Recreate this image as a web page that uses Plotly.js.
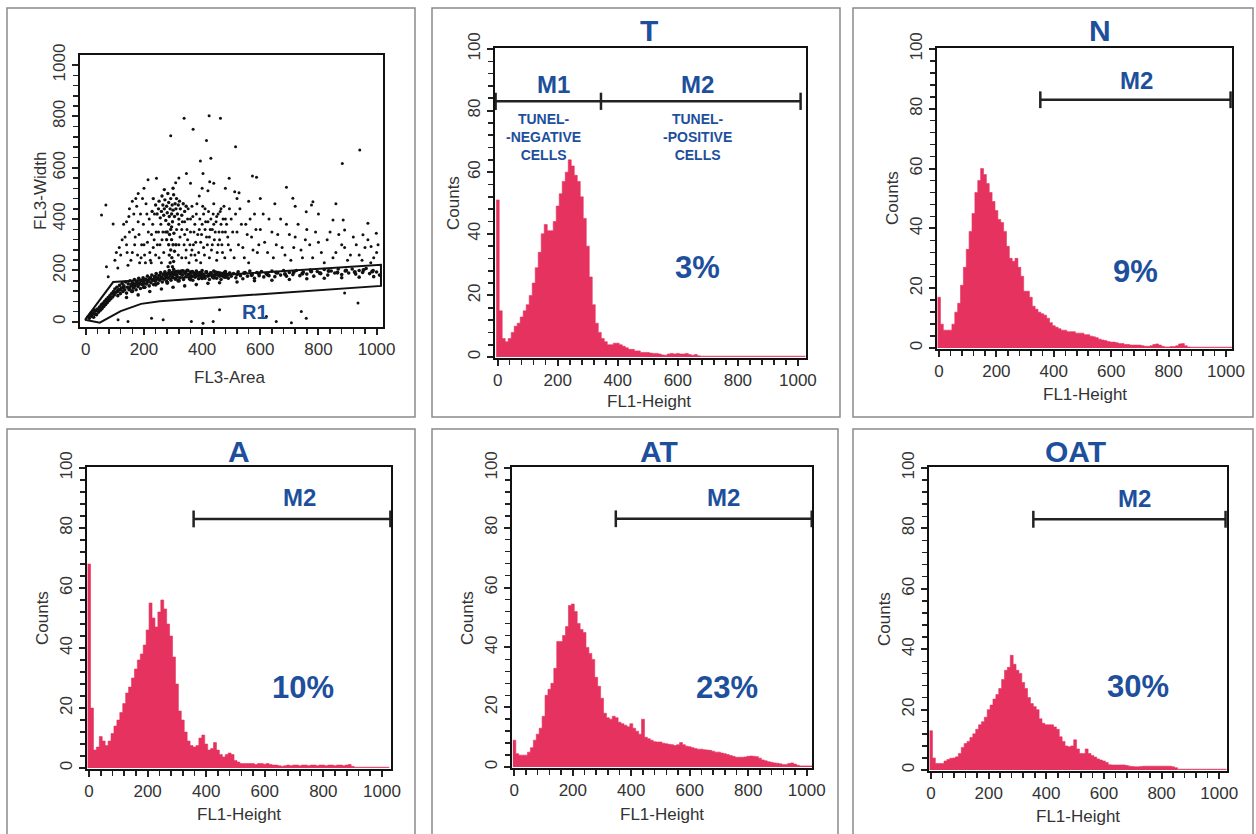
<!DOCTYPE html>
<html><head><meta charset="utf-8">
<script src="https://cdn.plot.ly/plotly-3.0.1.min.js"></script>
<style>html,body{margin:0;padding:0;background:#fff}#chart{width:1256px;height:834px}</style>
</head><body><div id="chart"></div>
<script>
// ---------------- DATA ----------------
// histogram channel centres (FL1-Height), bin width 10
const binWidth = 10;
const channels = [];
for (let c = 0; c <= 1020; c += binWidth) channels.push(c);

const panelNames = ['T', 'N', 'A', 'AT', 'OAT'];
const pctText = ['3%', '9%', '10%', '23%', '30%'];

const countsT = [
  51,15,6,5,6,8,10,11,13,15,
  17,20,24,29,34,40,43,41,41,44,
  49,53,57,60,64,62,59,57,52,45,
  36,26,17,11,8,6,5,4,4,4.5,
  4.5,4,3.5,3,2.5,2.5,2,2,1.5,1.5,
  1.5,1.3,1.2,1.2,1,0.7,0.6,1,1.2,1,
  1.2,1,1,1.2,0.8,0.6,0.8,0.4,0.3,0.3,
  0.3,0.3,0.3,0.3,0.3,0.3,0.3,0.3,0.3,0.3,
  0.3,0.3,0.3,0.3,0.3,0.3,0.3,0.3,0.3,0.3,
  0.3,0.3,0.3,0.3,0.3,0.3,0.3,0.3,0.3,0.3,
  0.3,0.3,0.3];
const countsN = [
  17,8,6,6,6,8,12,15,21,27,
  33,39,45,52,56,60,58,55,52,49,
  46,43,42,39,34,30,29,30,27,24,
  19,19,17,14,13,12,11.5,11,10,8.5,
  7.5,7,6.5,6,6,5.5,5.5,5.5,5,5,
  5,4.5,4.5,4,3.8,3.5,3,2.7,2.5,2.2,
  2,2,1.8,1.5,1.5,1.2,1.2,1,1,1,
  1,0.8,0.6,0.6,0.8,1.2,1.4,1,0.6,0.4,
  0.4,0.5,0.5,0.8,1.4,1.5,0.8,0.4,0.3,0.3,
  0.3,0.3,0.3,0.3,0.3,0.3,0.3,0.3,0.3,0.3,
  0.3,0.3,0.3];
const countsA = [
  68,20,6,7,10.5,9,7.5,9,11.5,14,
  16,18.5,21.5,25,27,30,33,36,38,41,
  46,55,50,47,52,56,53,48,44,37,
  28,19,16,12,9,7.5,7,7.5,10,11,
  8,6,6.5,8.5,6,4.5,3.7,4.5,5,4.5,
  2.5,2,1.5,1.5,1.5,1.5,1.5,1.2,1.5,1.5,
  1.3,1.5,1.2,1,1,0.8,0.6,0.8,1,0.8,
  1,1,0.8,1,1,0.8,1,1,0.8,1,
  1,0.8,1,1,0.8,1,1,0.8,1,1.2,
  0.6,0.3,0.3,0.3,0.3,0.3,0.3,0.3,0.3,0.3,
  0.3,0.3,0.3];
const countsAT = [
  9,4.5,4,4,4,5,6.5,9,11,13,
  17,24,26,28,33,42,42,44,47,54,
  54.5,52,48,46,45,40,38,36,30,27,
  23,18,16.5,16,17,16.5,15,14.5,14,13.5,
  14.5,13,12,11,16,10,9.5,9,8.5,8.4,
  8.4,8,7.8,7.6,7.5,7.2,7.5,8.2,7.5,7,
  6.8,6.5,6.2,6,6,5.8,5.7,5.6,5.3,5,
  5,4.7,4.5,4.2,3.9,3.6,3.3,3.3,3.3,3.4,
  3.6,3.7,3.6,3.5,3,2.4,2.1,1.8,1.6,1.4,
  1.3,1.1,0.9,0.9,1.2,1.4,1,0.6,0.4,0.4,
  0.4,0.4,0.4];
const countsOAT = [
  13,4,2.2,2.2,2.2,3,3.5,3.9,4,4.4,
  5.5,7.5,8.8,9.5,10.8,12,13.5,15,16,17.5,
  20,21.5,23.5,25,27,30,33,34,38,35,
  33,32,29,27,24,22,21,20,17,15.5,
  15,15,15,14.3,13.5,11,9.5,8,7.7,8,
  10,7,5.5,5.5,7,5.5,4.8,4.3,3.7,3.3,
  3,2.5,1.8,1.7,1.7,1.7,1.7,1.7,1.5,1.3,
  1.2,1.1,1.1,1.2,1.3,1.3,1.3,1.3,1.3,1.3,
  1.3,1.3,1.3,1.3,1.1,0.8,0.3,0.3,0.3,0.3,
  0.3,0.3,0.3,0.3,0.3,0.3,0.3,0.3,0.3,0.3,
  0.3,0.3,0.3];

// M1 / M2 marker gates (FL1-Height) and marker level (counts)
const m1Range = [-7, 344];
const m2Start = [344, 353, 357, 347, 355];
const m2End   = [1009, 1016, 1029, 1017, 1022];
const markerLevel = 83;

// Scatter (FL3-Area vs FL3-Width)
const bandX = [8,12,15,20,24,27,30,34,37,40,44,47,50,53,56,59,62,65,68,71,74,77,80,83,86,89,92,95,98,100,
  104,107,110,113,116,119,122,125,128,131,134,137,140,143,146,149,152,155,158,161,164,167,170,173,176,179,182,185,188,191,194,197,200,
  203,206,209,212,215,218,221,224,227,230,233,236,239,242,245,248,251,254,257,260,263,266,269,272,275,278,281,284,287,290,293,296,299,302,305,308,311,314,317,320,
  324,328,332,336,340,344,348,352,356,360,364,368,372,376,380,384,388,392,396,400,405,410,415,420,425,430,435,440,445,450,455,460,465,470,475,480,485,490,495,500,
  508,516,524,532,540,548,556,564,572,580,588,596,604,612,620,630,640,650,660,670,680,690,700,712,724,736,748,760,772,784,796,808,820,832,844,856,868,880,892,904,916,928,940,952,964,976,988,1000,1010,
  140,180,220,260,300,340,380,420,460,520,580,640,700,760,820,880,940,990];
const bandY = [20,14,28,22,35,18,30,42,28,50,38,58,45,66,52,72,60,80,68,88,75,95,83,102,90,110,97,118,105,128,
  115,135,102,125,142,110,132,150,118,140,125,155,112,135,148,125,160,140,118,152,133,165,145,125,158,138,170,150,130,162,145,172,155,
  135,165,148,178,158,140,170,152,182,162,145,175,158,188,168,150,180,162,192,172,155,185,166,195,176,158,188,170,200,180,162,192,174,205,184,166,196,178,160,190,
  172,198,182,165,192,176,200,184,168,194,178,162,190,174,198,182,168,192,176,200,184,170,194,178,165,190,175,198,182,170,192,178,165,188,175,196,182,170,190,178,
  188,172,195,180,168,192,178,198,184,170,192,180,196,175,188,180,198,176,190,182,200,178,192,184,200,180,194,186,202,178,196,188,204,182,198,190,206,184,198,190,206,186,200,192,208,188,200,194,182,
  95,105,118,128,135,140,145,150,152,155,160,162,165,168,170,172,174,176];
const bandCoreX = [150,158,166,174,182,190,198,206,214,222,230,238,246,254,262,270,278,286,294,302,310,318,326,334,342,350,358,366,374,382,390,398,406,414,422,430,438,446,454,462,470,478,486,494,
  520,545,570,595,625,655,685,715,745,775,805,835,865,895,925,955,985,
  18,30,45,58,70,82,95,110,120,130,160,200,240,280,320,360,400,440,480];
const bandCoreY = [130,145,138,152,145,160,150,165,158,170,163,176,168,180,172,186,178,190,183,194,186,196,188,198,190,200,186,195,184,192,182,190,180,194,183,190,181,193,184,189,180,192,182,188,
  185,190,182,188,184,192,186,194,188,196,190,198,192,200,194,202,196,
  32,45,48,65,80,95,110,120,125,135,120,135,145,152,160,165,170,172,175];
const clusterX = [240,245,250,252,256,260,262,265,268,270,272,275,278,280,282,285,287,290,292,295,297,300,302,305,307,310,312,315,318,320,322,325,330,335,340,232,228,345,300,270,
  285,292,298,288,295,303,285,292,300,287,296,305,290,298,283,302,310,278,295,280];
const clusterY = [455,420,440,470,405,430,490,455,415,440,475,395,450,425,500,465,410,440,480,420,455,435,495,410,460,440,480,420,455,400,470,440,415,460,430,480,430,450,520,515,
  380,360,390,340,320,345,300,280,300,260,250,275,230,215,215,235,300,320,370,350];
const cloudX = [100,110,120,130,140,145,150,160,165,170,175,180,185,190,195,200,205,210,215,220,225,230,235,240,250,255,260,265,320,330,340,345,350,355,360,365,370,375,380,385,390,395,400,405,410,415,420,425,430,435,440,445,450,455,460,465,470,475,480,490,500,510,520,530,540,550,560,570,580,590,600,615,630,645,660,675,690,705,720,740,760,780,800,820,840,860,880,900,920,940,960,980,1000,
  360,375,390,405,420,435,450,465,480,440,410,395,425,455,470,350,365,380,340,330,320];
const cloudY = [240,210,260,380,300,220,350,270,420,330,450,390,230,250,480,300,230,420,350,270,230,380,320,260,350,300,230,350,300,250,340,280,400,230,350,450,300,260,420,340,490,230,380,290,440,330,510,250,400,300,460,350,240,420,320,380,270,450,350,300,400,250,350,440,290,380,230,330,420,270,360,310,400,250,340,290,380,240,330,280,360,250,310,230,350,270,300,240,330,260,290,230,270,
  400,380,360,420,390,360,410,440,400,380,360,310,330,300,350,320,280,240,390,360,380];
const cloud2X = [135,142,148,155,162,168,172,178,183,188,192,198,202,207,212,218,222,226,232,236,242,246,252,258,262,268,274,312,318,324,332,338,344,348,352,358,362,368,372,378,382,388,392,398,402,408,412,418,422,428,432,438,442,448,452,458,462,468,472,478,484,488,494,498,505,515,525,535,545,555,565,575,585,595,610,625,640,655,670,685,700,715,730,745,755,770,790,810,830,850,870,890,910,930,950,970,990,1005,
  860,800,720,650,600,560,520,480,440,400,360,320,200,180,160,150,140,125,115,105];
const cloud2Y = [330,270,410,240,360,300,480,260,340,420,300,380,260,460,310,400,240,340,290,420,350,300,250,380,320,270,350,360,260,330,390,300,250,360,440,300,260,410,350,310,460,270,400,340,450,260,390,300,430,360,280,420,320,390,270,350,430,300,400,250,380,330,440,280,350,420,300,380,250,340,400,280,360,300,420,270,350,300,400,260,340,290,380,250,320,300,350,270,320,250,340,290,260,300,240,320,250,300,
  460,420,450,460,480,470,480,520,540,520,540,560,520,500,470,440,390,320,290,270];
const outlierX = [338,424,463,369,292,415,515,430,394,942,882,573,587,493,403,426,243,214,309,346,512,527,690,712,781,776,758,850,885,890,970,953,999,981,69,54,94,71,77,890,936,741,758,707,655,621,438,403,363,266,226,145,111,460];
const outlierY = [793,802,793,750,725,706,682,637,626,669,617,568,563,559,578,546,559,553,542,578,507,503,524,481,468,455,429,397,397,358,384,339,345,293,455,416,381,215,176,112,73,40,14,-3,1,21,1,-5,1,8,14,1,8,47];

// R1 gate polygon (FL3-Area, FL3-Width)
const gateX = [-3, 94, 1015, 1015, 254, 190, 120, 48, -3];
const gateY = [8, 155, 222, 140, 80, 70, 42, -3, 8];

// ---------------- STYLE / LAYOUT ----------------
const FONT = '"Liberation Sans", Arial, Helvetica, sans-serif';
const BLUE = '#1d4f9c';
const PINK = '#e5325e';
const W = 1256, H = 834;
const px = x => x / W;
const py = y => 1 - y / H;

// panel plot boxes in pixels
const boxes = [
  {x:[80,383],  y:[55,327],  xr:[-20,1022], yr:[-20,1039]},
  {x:[495,806], y:[48,358],  xr:[-9,1027],  yr:[-0.3,100.3]},
  {x:[937,1232],y:[48,349],  xr:[-7,1021],  yr:[-0.3,100.3]},
  {x:[87,391],  y:[467,769], xr:[-7,1031],  yr:[-0.3,100.3]},
  {x:[512,812], y:[467,768], xr:[-8,1018],  yr:[-0.3,100.3]},
  {x:[929,1227],y:[467,771], xr:[-7,1027],  yr:[-0.3,100.3]}
];
const frames = [[7,8,415,417],[432,8,840,417],[853,8,1253,417],[7,429,415,840],[432,429,838,840],[853,429,1253,840]];

function mkAxis(b, isY, idx, major, minor) {
  const s = idx === 0 ? '' : String(idx + 1);
  return {
    domain: isY ? [py(b.y[1]), py(b.y[0])] : [px(b.x[0]), px(b.x[1])],
    range: isY ? b.yr : b.xr,
    anchor: (isY ? 'x' : 'y') + s,
    fixedrange: true, showgrid: false, zeroline: false,
    showline: true, linecolor: '#111', linewidth: 2, mirror: true,
    ticks: 'outside', ticklen: 6, tickwidth: 2, tickcolor: '#222',
    tickmode: 'linear', tick0: 0, dtick: major,
    minor: {tickmode: 'linear', tick0: 0, dtick: minor, ticks: 'outside', ticklen: 5, tickwidth: 1.5, tickcolor: '#222'},
    tickfont: {family: FONT, size: 17, color: '#333'},
    tickangle: isY ? -90 : 0
  };
}

const layout = {
  width: W, height: H, margin: {l: 0, r: 0, t: 0, b: 0},
  paper_bgcolor: '#fff', plot_bgcolor: '#fff', showlegend: false,
  shapes: [], annotations: []
};
boxes.forEach((b, i) => {
  const s = i === 0 ? '' : String(i + 1);
  layout['xaxis' + s] = mkAxis(b, false, i, 200, 40);
  layout['yaxis' + s] = mkAxis(b, true, i, i === 0 ? 200 : 20, i === 0 ? 40 : 4);
});
frames.forEach(f => layout.shapes.push({type: 'rect', xref: 'paper', yref: 'paper',
  x0: px(f[0]), x1: px(f[2]), y0: py(f[3]), y1: py(f[1]), line: {color: '#8a8a8a', width: 1.5}, layer: 'below'}));

const traces = [];
// scatter panel
[[bandX, bandY, 3.6], [bandCoreX, bandCoreY, 4.2], [clusterX, clusterY, 3.4], [cloudX, cloudY, 3], [cloud2X, cloud2Y, 3], [outlierX, outlierY, 3]].forEach(p => {
  traces.push({type: 'scatter', mode: 'markers', x: p[0], y: p[1], xaxis: 'x', yaxis: 'y',
    marker: {color: '#111', size: p[2]}, hoverinfo: 'skip', cliponaxis: true});
});
traces.push({type: 'scatter', mode: 'lines', x: gateX, y: gateY, xaxis: 'x', yaxis: 'y',
  line: {color: '#111', width: 2}, hoverinfo: 'skip'});

// histograms
const edges = channels.map(c => c - binWidth / 2).concat([channels[channels.length - 1] + binWidth / 2]);
const allCounts = [countsT, countsN, countsA, countsAT, countsOAT];
allCounts.forEach((vals, k) => {
  const s = String(k + 2);
  traces.push({type: 'scatter', mode: 'lines', x: edges, y: vals.concat([vals[vals.length - 1]]),
    xaxis: 'x' + s, yaxis: 'y' + s, line: {shape: 'hv', color: PINK, width: 0.6},
    fill: 'tozeroy', fillcolor: PINK, hoverinfo: 'skip'});
  // marker bars
  const cap = 2.8;
  const mx = [], my = [];
  const ends = k === 0 ? [m1Range[0], m2Start[k], m2End[k]] : [m2Start[k], m2End[k]];
  mx.push(ends[0], ends[ends.length - 1], null); my.push(markerLevel, markerLevel, null);
  ends.forEach(e => { mx.push(e, e, null); my.push(markerLevel - cap, markerLevel + cap, null); });
  traces.push({type: 'scatter', mode: 'lines', x: mx, y: my, xaxis: 'x' + s, yaxis: 'y' + s,
    line: {color: '#222', width: 2.5}, hoverinfo: 'skip', connectgaps: false, cliponaxis: false});
});

// text annotations
const A = layout.annotations;
const bold = (sz) => ({family: FONT, size: sz, color: BLUE, weight: 'bold'});
const C = {showarrow: false, xanchor: 'center', yanchor: 'middle'};
const titlePos = [[649, 30], [1100, 31], [239, 452], [659, 451], [1075, 451]];
panelNames.forEach((n, k) => A.push(Object.assign({xref: 'paper', yref: 'paper', x: px(titlePos[k][0]), y: py(titlePos[k][1]),
  text: '<b>' + n + '</b>', font: bold(30)}, C)));
const m2LabelX = [665, 688, 717, 716, 707];
const m2LabelY = [88.6, 89.4, 90, 90, 90];
const pctX = [665, 686, 731, 726, 719];
const pctY = [29, 25.7, 27, 26.7, 27.5];
m2LabelX.forEach((x, k) => {
  const s = String(k + 2);
  A.push(Object.assign({xref: 'x' + s, yref: 'y' + s, x: x, y: m2LabelY[k], text: '<b>M2</b>', font: bold(24)}, C));
  A.push(Object.assign({xref: 'x' + s, yref: 'y' + s, x: pctX[k], y: pctY[k], text: '<b>' + pctText[k] + '</b>', font: bold(31)}, C));
});
A.push(Object.assign({xref: 'x2', yref: 'y2', x: 185, y: 88.6, text: '<b>M1</b>', font: bold(24)}, C));
A.push(Object.assign({xref: 'x2', yref: 'y2', x: 152, y: 71.5, text: '<b>TUNEL-<br>-NEGATIVE<br>CELLS</b>', font: bold(14)}, C));
A.push(Object.assign({xref: 'x2', yref: 'y2', x: 665, y: 71.5, text: '<b>TUNEL-<br>-POSITIVE<br>CELLS</b>', font: bold(14)}, C));
A.push(Object.assign({xref: 'x', yref: 'y', x: 581, y: 39, text: '<b>R1</b>', font: bold(20)}, C));

// axis titles
const axFont = {family: FONT, size: 17, color: '#333'};
const xTitles = [['FL3-Area', 230, 377], ['FL1-Height', 649, 401], ['FL1-Height', 1085, 395], ['FL1-Height', 239, 814], ['FL1-Height', 662, 814], ['FL1-Height', 1078, 816]];
xTitles.forEach(t => A.push(Object.assign({xref: 'paper', yref: 'paper', x: px(t[1]), y: py(t[2]), text: t[0], font: axFont}, C)));
const yTitles = [['FL3-Width', 40, 191], ['Counts', 453, 203], ['Counts', 893, 198], ['Counts', 42, 618], ['Counts', 467, 618], ['Counts', 884, 619]];
yTitles.forEach(t => A.push(Object.assign({xref: 'paper', yref: 'paper', x: px(t[1]), y: py(t[2]), text: t[0], textangle: -90, font: axFont}, C)));

Plotly.newPlot('chart', traces, layout, {displayModeBar: false, staticPlot: true});
</script></body></html>
